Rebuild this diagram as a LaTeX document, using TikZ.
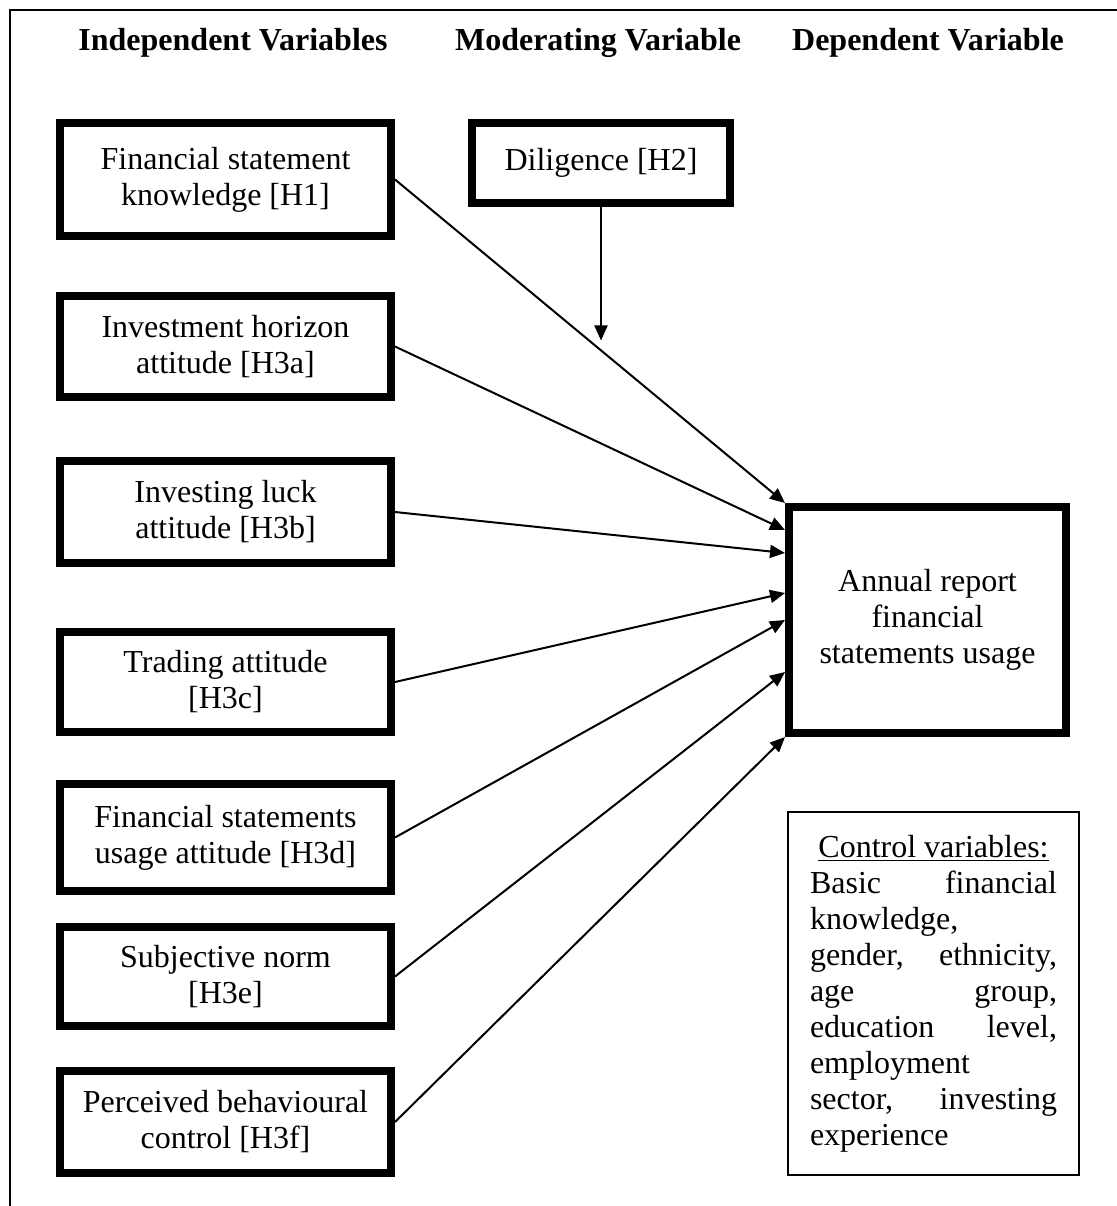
\documentclass[tikz,border=0pt]{standalone}
\usepackage{fontspec}
\setmainfont{Liberation Serif}
\usetikzlibrary{positioning, arrows.meta, calc}
\newlength\cvw
\setlength\cvw{123.5pt} % width of the text in the control box
\tikzset{
>={Triangle[length=7.5pt,width=6.5pt]}, % filled arrow heads
every node/.style={font=\fontsize{16}{18}\selectfont}, % Times-like text everywhere
varbox/.style={draw, line width=4pt, align=center, minimum width=165.5pt, inner sep=2pt}, % thick variable boxes
head/.style={font=\fontsize{16}{18}\selectfont\bfseries, anchor=base}, % column titles
link/.style={->, line width=1pt}, % hypothesis arrows
}

\begin{document}
\begin{tikzpicture}[x=0.5pt, y=-0.5pt]
\useasboundingbox (0,0) rectangle (1117,1206);
% frame, open to the right and bottom
\draw[line width=1.4pt] (10,1215) -- (10,10) -- (1125,10);

% column titles
\node[head] (ivhead) at (233,50) {Independent Variables};
\node[head] (mvhead) at (598,50) {Moderating Variable};
\node[head] (dvhead) at (928,50) {Dependent Variable};

% independent variables
\node[varbox, minimum height=56.5pt] (H1) at (225.5,179.5) {Financial statement\\knowledge [H1]};
\node[varbox, minimum height=50.5pt, below=26pt of H1] (H3a) {Investment horizon\\attitude [H3a]};
\node[varbox, minimum height=51pt, below=28pt of H3a] (H3b) {Investing luck\\attitude [H3b]};
\node[varbox, minimum height=50pt, below=30.5pt of H3b] (H3c) {Trading attitude\\{[H3c]}};
\node[varbox, minimum height=53.5pt, below=22pt of H3c] (H3d) {Financial statements\\usage attitude [H3d]};
\node[varbox, minimum height=49.5pt, below=14pt of H3d] (H3e) {Subjective norm\\{[H3e]}};
\node[varbox, minimum height=51pt, below=18.5pt of H3e] (H3f) {Perceived behavioural\\control [H3f]};

% moderating and dependent variables
\node[varbox, minimum width=129pt, minimum height=40pt, right=36.5pt of H1.north east, anchor=north west] (H2) {Diligence [H2]};
\node[varbox, minimum width=138.5pt, minimum height=113pt] (AR) at (927.5,620) {Annual report\\financial\\statements usage};

% control variables
\node[draw, line width=0.75pt, minimum width=145.5pt, minimum height=181.5pt, align=left, inner sep=0pt] (CV) at (933.5,993.5) {%
\makebox[\cvw]{\underline{Control variables:}}\\
\makebox[\cvw][s]{Basic financial}\\
\makebox[\cvw][l]{knowledge,}\\
\makebox[\cvw][s]{gender, ethnicity,}\\
\makebox[\cvw][s]{age group,}\\
\makebox[\cvw][s]{education level,}\\
\makebox[\cvw][l]{employment}\\
\makebox[\cvw][s]{sector, investing}\\
\makebox[\cvw][l]{experience}};

% hypotheses
\draw[link] (H1.east) -- (AR.north west);
\draw[link] (H3a.east) -- ([yshift=45pt]AR.west);
\draw[link] (H3b.east) -- ([yshift=33.5pt]AR.west);
\draw[link] (H3c.east) -- ([yshift=13.5pt]AR.west);
\draw[link] (H3d.east) -- (AR.west);
\draw[link] (H3e.east) -- ([yshift=-26pt]AR.west);
\draw[link] (H3f.east) -- (AR.south west);

% moderation onto the H1 path
\coordinate (mod) at ($(H1.east)!0.51!(AR.north west)$);
\draw[link, shorten >=2pt] (H2.south) -- (H2.south |- mod);
\end{tikzpicture}
\end{document}
